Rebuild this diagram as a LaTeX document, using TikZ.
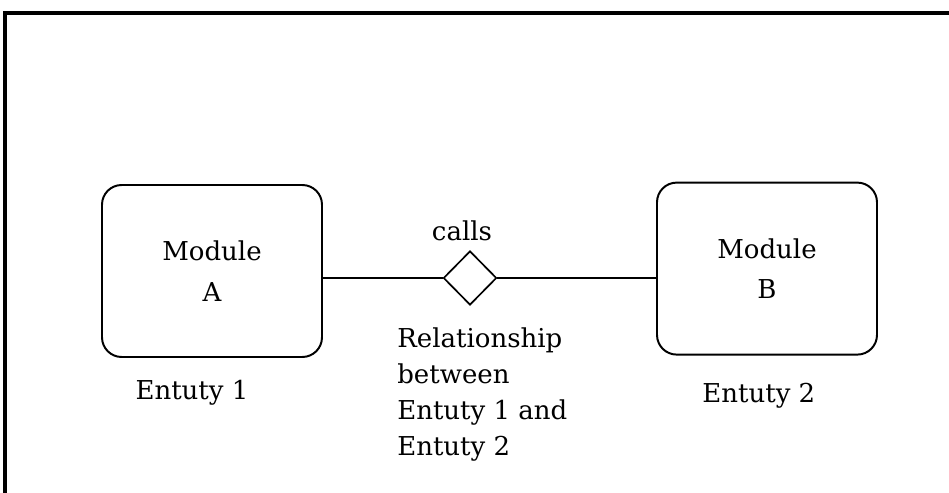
\documentclass[tikz,border=0pt]{standalone}
\usepackage{fontspec}
\setmainfont{DejaVu Serif}
\usetikzlibrary{positioning,shapes.geometric}

\begin{document}
\begin{tikzpicture}[
  every node/.style={font=\fontsize{18.5}{29}\selectfont},
  entity/.style={rectangle, draw, line width=1.4pt, rounded corners=14pt,
                 minimum width=5.5cm, minimum height=4.3cm, align=center},
  relation/.style={diamond, draw, line width=1.2pt, inner sep=0pt,
                   minimum width=1.33cm, minimum height=1.35cm},
  note/.style={inner sep=0pt}
]
  \useasboundingbox (0,0) rectangle (23.725,12.325);
  % outer frame, only the left and top edges show
  \draw[line width=2.2pt] (0.125,0) -- (0.125,12.0) -- (23.725,12.0);

  \node[entity] (modA) at (5.3,5.55) {Module\\A};
  \node[entity] (modB) at (19.175,5.61) {Module\\B};
  \node[relation] (calls) at (11.75,5.375) {};

  \node[note, anchor=base] (callsLbl) at (11.55,6.3) {calls};
  \node[note, anchor=base] (entA) at (4.8,2.325) {Entuty 1};
  \node[note, anchor=base] (entB) at (18.97,2.25) {Entuty 2};
  \node[note, anchor=north west, align=left,
        font=\fontsize{18.5}{25.6}\selectfont] (relLbl) at (9.925,4.15)
       {Relationship\\between\\Entuty 1 and\\Entuty 2};

  \draw[line width=1.3pt] (modA.east |- calls) -- (calls.west);
  \draw[line width=1.3pt] (calls.east) -- (modB.west |- calls);
\end{tikzpicture}
\end{document}
